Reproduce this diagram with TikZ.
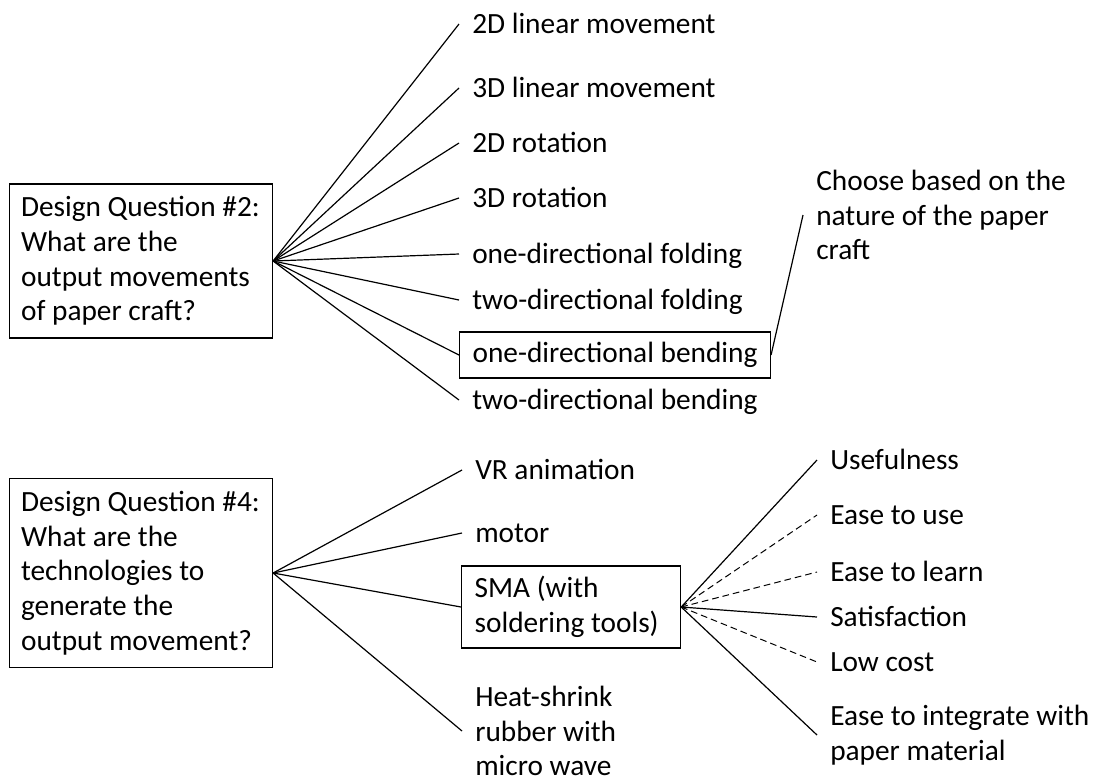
\documentclass[tikz,border=0pt]{standalone}
\usepackage{fontspec}
\setmainfont{Carlito}
\usetikzlibrary{positioning}

\begin{document}
\begin{tikzpicture}[x=0.75pt,y=-0.75pt,
  font=\fontsize{22}{26}\selectfont,
  every node/.style={inner xsep=9.75pt},
  qbox/.style={draw, line width=0.9pt, align=flush left, text width=180pt, inner xsep=8.6pt, anchor=west},
  item/.style={anchor=west, text height=14pt, text depth=0pt, inner ysep=0pt},
  multi/.style={anchor=west, align=left},
  framed/.style={draw, line width=0.9pt, anchor=west},
  link/.style={line width=0.9pt},
  weak/.style={line width=0.75pt, dash pattern=on 5pt off 3pt}]
\useasboundingbox (0,0) rectangle (1095,783);
\node[qbox, minimum height=115.5pt] (dq2) at (9,261) {Design Question \#2:\\What are the\\output movements\\of paper craft?};
\node[item] (m1) at (459,24) {2D linear movement};
\node[item] (m2) at (459,88) {3D linear movement};
\node[item] (m3) at (459,143) {2D rotation};
\node[item] (m4) at (459,198) {3D rotation};
\node[item] (m5) at (459,254) {one-directional folding};
\node[item] (m6) at (459,300) {two-directional folding};
\node[item, framed, text depth=3pt, minimum height=34.5pt] (m7) at (459,355) {one-directional bending};
\node[item] (m8) at (459,400) {two-directional bending};
\node[multi] (note) at (803,215) {Choose based on the\\nature of the paper\\craft};
\foreach \i in {1,...,8} \draw[link] (dq2.east) -- (m\i.west);
\draw[link] (m7.east) -- (note.west);
\node[qbox, minimum height=141.75pt] (dq4) at (9,573) {Design Question \#4:\\What are the\\technologies to\\generate the\\output movement?};
\node[item] (t1) at (462,470) {VR animation};
\node[item] (t2) at (462,533) {motor};
\node[framed, align=flush left, text width=144.75pt, minimum height=61.5pt] (t3) at (461,607) {SMA (with\\soldering tools)};
\node[multi] (t4) at (462,731) {Heat-shrink\\rubber with\\micro wave};
\foreach \i in {1,...,4} \draw[link] (dq4.east) -- (t\i.west);
\node[item] (c1) at (817,460) {Usefulness};
\node[item] (c2) at (817,515) {Ease to use};
\node[item] (c3) at (817,572) {Ease to learn};
\node[item] (c4) at (817,617) {Satisfaction};
\node[item] (c5) at (817,662) {Low cost};
\node[multi] (c6) at (817,735) {Ease to integrate with\\paper material};
\foreach \i/\s in {1/link,2/weak,3/weak,4/link,5/weak,6/link} \draw[\s] (t3.east) -- (c\i.west);
\end{tikzpicture}
\end{document}
